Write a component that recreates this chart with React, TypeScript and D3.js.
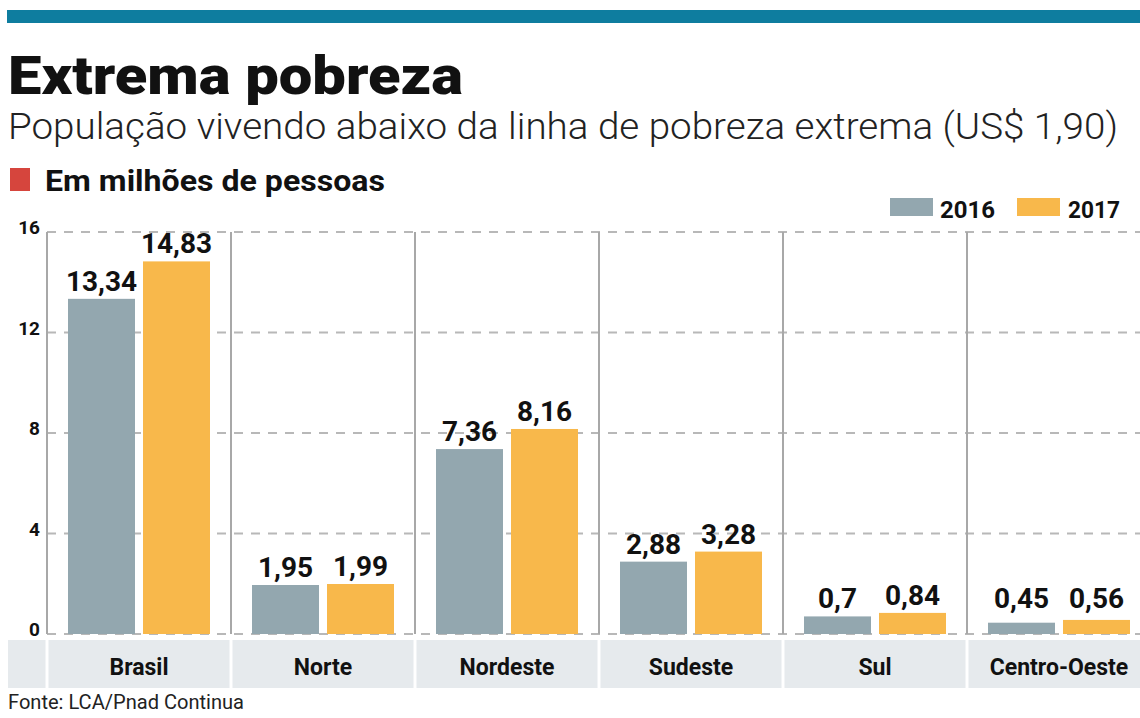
import React from "react";
import * as d3 from "d3";

const categories = ["Brasil", "Norte", "Nordeste", "Sudeste", "Sul", "Centro-Oeste"];
const years = ["2016", "2017"];
const values2016 = [13.34, 1.95, 7.36, 2.88, 0.7, 0.45];
const values2017 = [14.83, 1.99, 8.16, 3.28, 0.84, 0.56];
const yTicks = [0, 4, 8, 12, 16];

const W = 1140;
const H = 718;
const colors: Record<string, string> = { "2016": "#93a7af", "2017": "#f8b84b" };
const font = "Roboto, 'Noto Sans', sans-serif";

export default function App() {
  const x = d3.scaleBand<string>().domain(categories).range([47, 47 + 184 * 6]).paddingInner(0).paddingOuter(0);
  const xi = d3.scaleBand<string>().domain(years).range([21, 163]).paddingInner(8 / 75).paddingOuter(0);
  const y = d3.scaleLinear().domain([0, 16]).range([634, 232]);
  const fmt = (v: number) => String(v).replace(".", ",");
  const series: Record<string, number[]> = { "2016": values2016, "2017": values2017 };

  return (
    <svg width={W} height={H} style={{ position: "absolute", left: 0, top: 0, background: "#fff" }} fontFamily={font}>
      <rect x={7} y={10} width={W - 7} height={13} fill="#0e7d9f" />
      <text x={8} y={94} fontSize={54} fontWeight={900} fill="#111" textLength={455} lengthAdjust="spacingAndGlyphs">Extrema pobreza</text>
      <text x={8} y={139} fontSize={37} fontWeight={300} fill="#222" textLength={1110} lengthAdjust="spacingAndGlyphs">População vivendo abaixo da linha de pobreza extrema (US$ 1,90)</text>
      <rect x={10} y={168} width={20} height={23} fill="#d6453d" />
      <text x={45} y={191} fontSize={29} fontWeight={700} fill="#111" textLength={340} lengthAdjust="spacingAndGlyphs">Em milhões de pessoas</text>

      {/* legend */}
      <rect x={890} y={198} width={43} height={18} fill={colors["2016"]} />
      <text x={940} y={218} fontSize={24} fontWeight={700} fill="#111" textLength={55} lengthAdjust="spacingAndGlyphs">2016</text>
      <rect x={1017} y={198} width={43} height={18} fill={colors["2017"]} />
      <text x={1068} y={218} fontSize={24} fontWeight={700} fill="#111" textLength={52} lengthAdjust="spacingAndGlyphs">2017</text>

      {/* gridlines */}
      {yTicks.map((t) => (
        <g key={t}>
          <line x1={47} x2={W} y1={y(t)} y2={y(t)} stroke="#b8b8b8" strokeWidth={2} strokeDasharray="9,8" />
          <text x={40} y={y(t) + 2} fontSize={19} fontWeight={700} fill="#111" textAnchor="end">{t}</text>
        </g>
      ))}

      {/* vertical separators */}
      {categories.map((c) => (
        <line key={c} x1={x(c)!} x2={x(c)!} y1={y(16)} y2={y(0)} stroke="#a8a8a8" strokeWidth={2} />
      ))}

      {/* label band */}
      <rect x={8} y={640} width={W - 8} height={48} fill="#e6eaed" />
      {categories.map((c) => (
        <line key={"w" + c} x1={x(c)!} x2={x(c)!} y1={640} y2={688} stroke="#fff" strokeWidth={3} />
      ))}
      {categories.map((c) => (
        <text key={"l" + c} x={x(c)! + x.bandwidth() / 2} y={675} fontSize={23} fontWeight={700} fill="#111" textAnchor="middle">{c}</text>
      ))}

      {/* bars */}
      {categories.map((c, i) => (
        <g key={"b" + c} transform={`translate(${x(c)},0)`}>
          {years.map((yr) => {
            const v = series[yr][i];
            const bx = xi(yr)!;
            return (
              <g key={yr}>
                <rect x={bx} y={y(v)} width={xi.bandwidth()} height={y(0) - y(v)} fill={colors[yr]} />
                <text x={bx + xi.bandwidth() / 2} y={Math.min(y(v) - 8, 608)} fontSize={28} fontWeight={700} fill="#111" textAnchor="middle">{fmt(v)}</text>
              </g>
            );
          })}
        </g>
      ))}

      <text x={8} y={709} fontSize={20} fill="#222" textLength={236} lengthAdjust="spacingAndGlyphs">Fonte: LCA/Pnad Continua</text>
    </svg>
  );
}
